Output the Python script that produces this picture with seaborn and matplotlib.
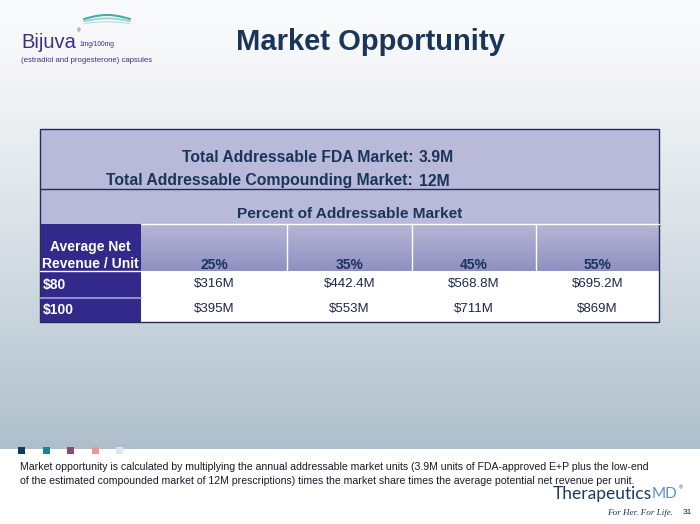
import numpy as np
import pandas as pd
import matplotlib.pyplot as plt
import seaborn as sns
from matplotlib.colors import ListedColormap, to_rgb
from matplotlib.patches import Rectangle

sns.set_style("white")
plt.rcParams['font.family'] = ['Liberation Sans', 'DejaVu Sans']

# ---- data ----
share_labels = ["25%", "35%", "45%", "55%"]
price_labels = ["$80", "$100"]
revenue_80 = [316, 442.4, 568.8, 695.2]
revenue_100 = [395, 553, 711, 869]
fda_market = "3.9M"
compounding_market = "12M"
square_colors = ['#0e3a5c', '#14888e', '#8a4a74', '#ef959a', '#d5e7f5']

W, H = 700, 524
NAVY = '#1b3558'
PURPLE = '#33298a'
LAV = '#b9b9d9'
LOGO = '#3f2d8c'

fig = plt.figure(figsize=(7, 5.24), dpi=100)


def frac(x0, y0, x1, y1):
    """pixel box (top-left origin) -> figure fraction rect"""
    return [x0 / W, 1 - y1 / H, (x1 - x0) / W, (y1 - y0) / H]


bg = fig.add_axes([0, 0, 1, 1])

# slide background gradient
top = np.array(to_rgb('#fafbfc'))
bot = np.array(to_rgb('#aebfcb'))
t = np.linspace(0, 1, 300) ** 1.25
grad = (top[None, :] * (1 - t[:, None]) + bot[None, :] * t[:, None])[:, None, :]
bg.imshow(grad, extent=[0, W, 449, 0], aspect='auto', zorder=0)

# logo
xs = np.linspace(84, 130, 60)
for k, (c, a) in enumerate([('#2fa3a8', 0.9), ('#7fc8b8', 0.8), ('#9fd4e0', 0.7)]):
    bg.plot(xs, 19 + k * 2.2 - 4 * np.sin((xs - 84) / 46 * np.pi) * (1 - 0.3 * k),
            color=c, lw=1.5 - 0.3 * k, alpha=a, solid_capstyle='round')
bg.text(21, 48, "Bijuva", fontsize=14.5, color=LOGO, va='baseline')
bg.text(76.5, 31, "®", fontsize=3.5, color=LOGO, va='center')
bg.text(80, 46, "1mg/100mg", fontsize=4.8, color=LOGO, va='baseline')
bg.text(21, 62, "(estradiol and progesterone) capsules", fontsize=5.6, color=LOGO,
        va='baseline')

# title
bg.text(370, 42, "Market Opportunity", fontsize=21, fontweight='bold', color=NAVY,
        ha='center', va='center')

# table header blocks
col_edges = [40, 141, 287, 412, 536, 659]
bg.add_patch(Rectangle((40, 129), 619, 95, facecolor=LAV, edgecolor='none', zorder=1))
bg.add_patch(Rectangle((40, 224), 101, 98, facecolor=PURPLE, edgecolor='none', zorder=1))
hl = np.array(to_rgb('#b6b6d6'))
hd = np.array(to_rgb('#9090c2'))
tt = np.linspace(0, 1, 100)
hgrad = (hl[None, :] * (1 - tt[:, None]) + hd[None, :] * tt[:, None])[:, None, :]
bg.imshow(hgrad, extent=[141, 659, 271, 224], aspect='auto', zorder=1)
bg.set_xlim(0, W)
bg.set_ylim(H, 0)
bg.axis('off')

bg.text(413, 158, "Total Addressable FDA Market:", ha='right', va='center',
        fontsize=11.3, fontweight='bold', color=NAVY, zorder=3)
bg.text(419, 158, fda_market, ha='left', va='center',
        fontsize=11.3, fontweight='bold', color=NAVY, zorder=3)
bg.text(413, 181, "Total Addressable Compounding Market:", ha='right', va='center',
        fontsize=11.3, fontweight='bold', color=NAVY, zorder=3)
bg.text(419, 181, compounding_market, ha='left', va='center',
        fontsize=11.3, fontweight='bold', color=NAVY, zorder=3)
bg.text(350, 214, "Percent of Addressable Market", ha='center', va='center',
        fontsize=11.1, fontweight='bold', color=NAVY, zorder=3)

bg.text(90, 255.5, "Average Net\nRevenue / Unit", ha='center', va='center',
        fontsize=10, fontweight='bold', color='white', linespacing=1.2, zorder=3)
for j, lab in enumerate(share_labels):
    cx = (col_edges[j + 1] + col_edges[j + 2]) / 2
    bg.text(cx, 265, lab, ha='center', va='center', fontsize=10,
            fontweight='bold', color=NAVY, zorder=3)
for i, lab in enumerate(price_labels):
    bg.text(43, 284.5 + i * 25.5, lab, ha='left', va='center', fontsize=10,
            fontweight='bold', color='white', zorder=3)

# footer
for i, c in enumerate(square_colors):
    bg.add_patch(Rectangle((18 + i * 24.5, 446.5), 7, 7, facecolor=c, edgecolor='none', zorder=2))
bg.text(20, 467.5, "Market opportunity is calculated by multiplying the annual addressable market units "
        "(3.9M units of FDA-approved E+P plus the low-end", fontsize=7.55, color='#1a1a2a', va='center')
bg.text(20, 481.5, "of the estimated compounded market of 12M prescriptions) times the market share "
        "times the average potential net revenue per unit.", fontsize=7.55, color='#1a1a2a', va='center')
bg.text(652, 494, "Therapeutics", fontsize=12.5, color='#1e3a5f', ha='right', va='center',
        family=['Lato', 'DejaVu Sans'])
bg.text(652, 494, "MD", fontsize=11, color='#5d8fc9', ha='left', va='center',
        family=['Lato', 'DejaVu Sans'])
bg.text(679, 488, "®", fontsize=3.5, color='#1e3a5f', ha='left', va='center')
bg.text(673, 513, "For Her. For Life.", fontsize=6.6, color='#1e3a5f', ha='right', va='center',
        family=['Liberation Serif', 'DejaVu Serif'], style='italic')
bg.text(687, 513, "31", fontsize=6, color='#222222', ha='center', va='center')

# table body: one seaborn heatmap per value column
body = pd.DataFrame([revenue_80, revenue_100], index=price_labels, columns=share_labels)
for j, col in enumerate(share_labels):
    cax = fig.add_axes(frac(col_edges[j + 1], 271, col_edges[j + 2], 322))
    vals = body[[col]]
    labels = vals.map(lambda v: f"${v:g}M").values
    sns.heatmap(vals, ax=cax, cmap=ListedColormap(['white']), cbar=False,
                annot=labels, fmt='', xticklabels=False, yticklabels=False,
                annot_kws={'fontsize': 9.5, 'color': '#1d2748'})
    cax.set_xlabel('')
    cax.set_ylabel('')

# overlay for grid lines and border
ov = fig.add_axes([0, 0, 1, 1])
ov.set_xlim(0, W)
ov.set_ylim(H, 0)
ov.axis('off')
ov.plot([141, 659], [224, 224], color='white', lw=1)
for x in col_edges[2:5]:
    ov.plot([x, x], [224, 271], color='white', lw=1)
ov.plot([40, 141], [271, 271], color='white', lw=1)
ov.plot([40, 141], [297.5, 297.5], color='#9c98d0', lw=1.3)
ov.plot([40, 659], [189, 189], color='#1f2f5a', lw=1)
ov.add_patch(Rectangle((40, 129), 619, 193, facecolor='none', edgecolor='#1f2f5a', lw=1))

fig.savefig('out.png', dpi=100)
